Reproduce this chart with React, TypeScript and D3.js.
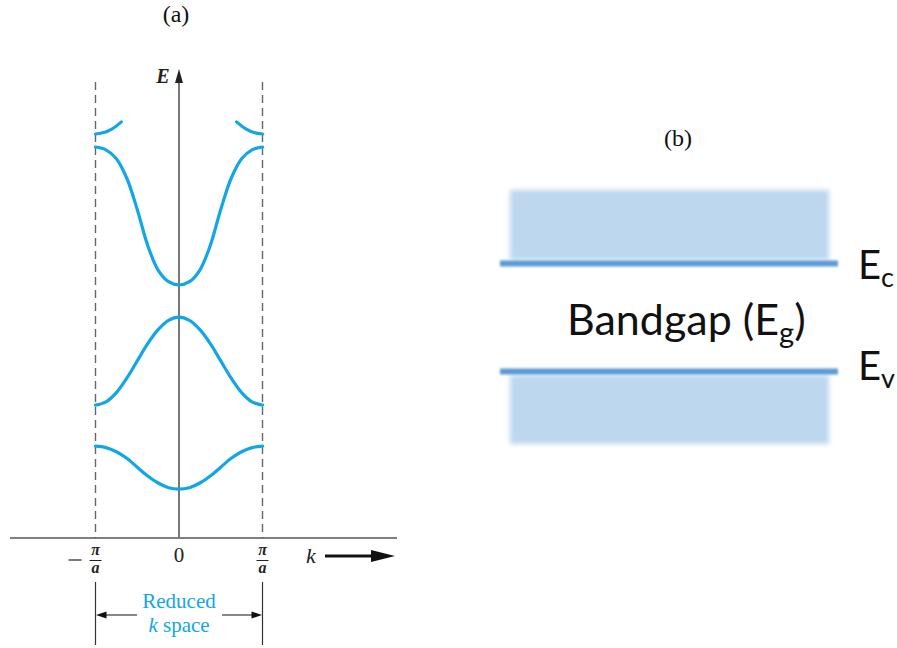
import React from "react";
import * as d3 from "d3";

// Reduced-zone wave vector, in units of pi/a
const kValues = [-1, -0.875, -0.75, -0.625, -0.5, -0.375, -0.25, -0.125, 0, 0.125, 0.25, 0.375, 0.5, 0.625, 0.75, 0.875, 1];

// Allowed energy bands (arbitrary energy units, 0 at the k axis)
const band1 = [19.7, 19.4, 18.5, 17.1, 15.2, 13.3, 11.8, 10.8, 10.5, 10.8, 11.8, 13.3, 15.2, 17.1, 18.5, 19.4, 19.7];
const band2 = [28.5, 29.2, 31.2, 34.3, 38.0, 41.7, 44.7, 46.7, 47.4, 46.7, 44.7, 41.7, 38.0, 34.3, 31.2, 29.2, 28.5];
const band3 = [83.9, 83.3, 81.4, 77.2, 70.5, 62.8, 57.5, 55.0, 54.3, 55.0, 57.5, 62.8, 70.5, 77.2, 81.4, 83.3, 83.9];

// Start of the fourth band near the zone edges
const band4LeftK = [-1, -0.9, -0.8, -0.69];
const band4LeftE = [86.7, 87.0, 87.8, 89.3];
const band4RightK = [0.69, 0.8, 0.9, 1];
const band4RightE = [89.3, 87.8, 87.0, 86.7];

// Tick labels on the k axis
const kTicks = [
  { k: -1, label: "-pi/a" },
  { k: 0, label: "0" },
  { k: 1, label: "pi/a" },
];

const BLUE = "#12a6e6";
const SERIF = "'Liberation Serif', 'Times New Roman', serif";
const SANS = "Lato, 'Open Sans', sans-serif";

export default function App() {
  const width = 897;
  const height = 648;

  const x = d3.scaleLinear().domain([-1, 1]).range([95.5, 262.5]);
  const y = d3.scaleLinear().domain([0, 100]).range([538, 72]);

  const line = d3
    .line<[number, number]>()
    .x((d) => x(d[0]))
    .y((d) => y(d[1]))
    .curve(d3.curveCatmullRom.alpha(0.5));

  const zip = (ks: number[], es: number[]) => ks.map((k, i) => [k, es[i]] as [number, number]);
  const bands = [
    zip(kValues, band1),
    zip(kValues, band2),
    zip(kValues, band3),
    zip(band4LeftK, band4LeftE),
    zip(band4RightK, band4RightE),
  ];

  const axisY = y(0);
  const x0 = x(0);
  const xl = x(-1);
  const xr = x(1);

  return (
    <svg
      width={width}
      height={height}
      style={{ position: "absolute", left: 0, top: 0, background: "#fff" }}
    >
      <defs>
        <filter id="soft" x="-10%" y="-20%" width="120%" height="140%">
          <feGaussianBlur stdDeviation="2.6" />
        </filter>
        <filter id="softLine" x="-5%" y="-100%" width="110%" height="300%">
          <feGaussianBlur stdDeviation="0.9" />
        </filter>
      </defs>

      {/* ---------- (a) E-k diagram in the reduced zone ---------- */}
      <text x={176} y={22} fontFamily={SERIF} fontSize={24} textAnchor="middle" fill="#111">
        (a)
      </text>

      {/* zone boundaries */}
      {[xl, xr].map((xx, i) => (
        <line key={i} x1={xx} x2={xx} y1={82} y2={axisY} stroke="#666" strokeWidth={1.4} strokeDasharray="8,5" />
      ))}

      {/* k axis */}
      <line x1={10} x2={397} y1={axisY} y2={axisY} stroke="#555" strokeWidth={1.5} />
      {/* E axis */}
      <line x1={x0} x2={x0} y1={axisY} y2={80} stroke="#777" strokeWidth={2} />
      <path d={`M${x0},69 L${x0 - 4},83 L${x0 + 4},83 Z`} fill="#222" />
      <text x={163} y={83} fontFamily={SERIF} fontSize={20} fontStyle="italic" fontWeight="bold" fill="#222" textAnchor="middle">
        E
      </text>

      {/* bands */}
      {bands.map((b, i) => (
        <path key={i} d={line(b) ?? ""} fill="none" stroke={BLUE} strokeWidth={3.2} strokeLinecap="round" />
      ))}

      {/* k tick labels */}
      {kTicks.map((t) =>
        t.label === "0" ? (
          <text key={t.label} x={x(t.k)} y={562} fontFamily={SERIF} fontSize={21} textAnchor="middle" fill="#222">
            0
          </text>
        ) : (
          <g key={t.label} transform={`translate(${x(t.k)},0)`} fontFamily={SERIF} fill="#222">
            {t.k < 0 && <line x1={-27} x2={-14} y1={560} y2={560} stroke="#222" strokeWidth={1.2} />}
            <text x={0} y={555} fontSize={16} fontStyle="italic" fontWeight="bold" textAnchor="middle">
              π
            </text>
            <line x1={-6} x2={6} y1={560.5} y2={560.5} stroke="#222" strokeWidth={1} />
            <text x={0} y={573} fontSize={16} fontStyle="italic" fontWeight="bold" textAnchor="middle">
              a
            </text>
          </g>
        )
      )}

      {/* k direction arrow */}
      <text x={311} y={563} fontFamily={SERIF} fontSize={22} fontStyle="italic" fill="#222" textAnchor="middle">
        k
      </text>
      <line x1={325} x2={374} y1={556} y2={556} stroke="#111" strokeWidth={3} />
      <path d="M371,550 L395,556 L371,562 Z" fill="#111" />

      {/* reduced k space bracket */}
      {[xl, xr].map((xx, i) => (
        <line key={i} x1={xx} x2={xx} y1={582} y2={645} stroke="#333" strokeWidth={1.2} />
      ))}
      <line x1={137} x2={xl + 6} y1={615} y2={615} stroke="#111" strokeWidth={1} />
      <path d={`M${xl + 0.5},615 L${xl + 11},611.5 L${xl + 11},618.5 Z`} fill="#111" />
      <line x1={222} x2={xr - 6} y1={615} y2={615} stroke="#111" strokeWidth={1} />
      <path d={`M${xr - 0.5},615 L${xr - 11},611.5 L${xr - 11},618.5 Z`} fill="#111" />
      <text x={179} y={608} fontFamily={SERIF} fontSize={21} fill={BLUE} textAnchor="middle">
        Reduced
      </text>
      <text x={179} y={632} fontFamily={SERIF} fontSize={21} fill={BLUE} textAnchor="middle">
        <tspan fontStyle="italic">k</tspan> space
      </text>

      {/* ---------- (b) band edges ---------- */}
      <text x={678} y={146} fontFamily={SERIF} fontSize={24} textAnchor="middle" fill="#111">
        (b)
      </text>

      <g filter="url(#soft)">
        <rect x={510} y={190} width={319} height={70} fill="#bdd7ee" />
        <rect x={510} y={375} width={319} height={69} fill="#bdd7ee" />
      </g>
      <g filter="url(#softLine)">
        <rect x={500} y={260.5} width={338} height={6} fill="#5b9bd5" />
        <rect x={500} y={368.5} width={338} height={6} fill="#5b9bd5" />
      </g>

      <text x={567} y={335} fontFamily={SANS} fontSize={43} fill="#111">
        Bandgap (E
        <tspan fontSize={29} dy={8}>g</tspan>
        <tspan dy={-8}>)</tspan>
      </text>

      <text x={858} y={279} fontFamily={SANS} fontSize={40} fill="#111">
        E<tspan fontSize={27} dy={8}>c</tspan>
      </text>
      <text x={858} y={380} fontFamily={SANS} fontSize={40} fill="#111">
        E<tspan fontSize={27} dy={8}>v</tspan>
      </text>
    </svg>
  );
}
